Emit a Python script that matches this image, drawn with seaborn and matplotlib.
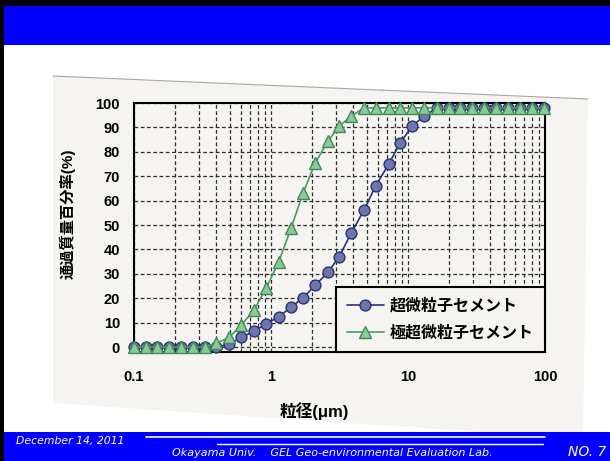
import matplotlib
matplotlib.use("Agg")
import matplotlib.pyplot as plt
from matplotlib.patches import Rectangle, Polygon
from matplotlib.lines import Line2D
from matplotlib.ticker import FixedLocator, LogLocator, NullFormatter
import pandas as pd
import seaborn as sns

# Particle size (μm) and cumulative passing mass percentage (%)
size_um = [0.100, 0.122, 0.148, 0.180, 0.220, 0.270, 0.330, 0.396, 0.497, 0.609,
           0.751, 0.925, 1.14, 1.40, 1.71, 2.10, 2.60, 3.14, 3.86, 4.76,
           5.80, 7.24, 8.74, 10.7, 13.0, 16.3, 19.8, 24.1, 29.3, 35.6,
           44.1, 53.7, 66.0, 80.4, 97.8]
ultrafine = [0, 0, 0, 0, 0, 0, 0, 0, 1.2, 4.0,
             6.5, 9.5, 12.5, 16.3, 20.2, 25.3, 30.6, 37.0, 46.8, 56.0,
             66.0, 75.0, 83.5, 90.5, 94.5, 98, 98, 98, 98, 98,
             98, 98, 98, 98, 98]
superfine = [0, 0, 0, 0, 0, 0, 0, 1.5, 4.0, 9.2,
             15.1, 24.3, 35.0, 48.6, 63.0, 75.4, 84.3, 90.5, 94.6, 98,
             98, 98, 98, 98, 98, 98, 98, 98, 98, 98,
             98, 98, 98, 98, 98]
series_names = ["超微粒子セメント", "極超微粒子セメント"]
x_ticks = [0.1, 1, 10, 100]
x_ticklabels = ["0.1", "1", "10", "100"]
y_ticks = [0, 10, 20, 30, 40, 50, 60, 70, 80, 90, 100]
x_title = "粒径(μm)"
y_title = "通過質量百分率(%)"
footer_date = "December 14, 2011"
footer_lab = "Okayama Univ.    GEL Geo-environmental Evaluation Lab."
footer_page = "NO. 7"

sns.set_style("white")
plt.rcParams["font.family"] = ["Liberation Sans", "Noto Sans CJK JP", "DejaVu Sans"]
plt.rcParams.update({"text.color": "black", "axes.labelcolor": "black",
                     "xtick.color": "black", "ytick.color": "black"})

W, H = 610, 461
fig = plt.figure(figsize=(W / 100, H / 100), dpi=100)
fig.patch.set_facecolor("white")


def fx(px):
    return px / W


def fy(py):
    return 1 - py / H


def rect(x0, y0, x1, y1, color, z=0):
    fig.add_artist(Rectangle((fx(x0), fy(y1)), (x1 - x0) / W, (y1 - y0) / H,
                             transform=fig.transFigure, facecolor=color,
                             edgecolor="none", zorder=z))


# slide frame: header band, footer band and dark left border
SLIDE_BLUE = "#0000fb"
rect(0, 0, W, 6, "black")
rect(0, 6, W, 45, SLIDE_BLUE)
rect(0, 432, W, H, SLIDE_BLUE)
rect(0, 0, 4, H, "black")

# scanned sheet behind the chart
PAPER = "#f5f4f0"
sheet = [(53, 76), (588, 99), (583, 432), (480, 432), (53, 403)]
fig.add_artist(Polygon([(fx(a), fy(b)) for a, b in sheet], closed=True,
                       transform=fig.transFigure, facecolor=PAPER,
                       edgecolor="none", zorder=0.5))
fig.add_artist(Line2D([fx(53), fx(588)], [fy(76), fy(99)],
                      transform=fig.transFigure, color="#a8a8a8", lw=0.8, zorder=0.6))

# footer lines and texts
fig.add_artist(Line2D([fx(146), fx(545)], [fy(437), fy(437)],
                      transform=fig.transFigure, color="white", lw=1.2, zorder=2))
fig.add_artist(Line2D([fx(217), fx(543)], [fy(444), fy(444)],
                      transform=fig.transFigure, color="white", lw=1.0, zorder=2))
fig.text(fx(16), fy(441), footer_date, color="white", fontsize=7.8, style="italic",
         family="DejaVu Sans", ha="left", va="center", zorder=3)
fig.text(fx(172), fy(453), footer_lab, color="white", fontsize=8, style="italic",
         family="DejaVu Sans", ha="left", va="center", zorder=3)
fig.text(fx(568), fy(452), footer_page, color="white", fontsize=10, style="italic",
         family="DejaVu Sans", ha="left", va="center", zorder=3)

# chart
ax = fig.add_axes([fx(134), fy(352), (545 - 134) / W, (352 - 103) / H])
ax.set_facecolor("none")
ax.set_zorder(1)

df_a = pd.DataFrame({"size": size_um, "passing": ultrafine})
df_b = pd.DataFrame({"size": size_um, "passing": superfine})

sns.lineplot(data=df_a, x="size", y="passing", ax=ax, color="#2b3270", lw=1.2,
             marker="o", markersize=7.8, markerfacecolor="#6c75ad",
             markeredgecolor="#2b3270", markeredgewidth=1.0,
             label=series_names[0], clip_on=False, zorder=3)
sns.lineplot(data=df_b, x="size", y="passing", ax=ax, color="#4b9a62", lw=1.2,
             marker="^", markersize=8.2, markerfacecolor="#8dc89b",
             markeredgecolor="#3f8a55", markeredgewidth=1.0,
             label=series_names[1], clip_on=False, zorder=4)

ax.set_xscale("log")
ax.set_xlim(0.1, 100)
ax.set_ylim(-2, 100)
ax.xaxis.set_major_locator(FixedLocator(x_ticks))
ax.set_xticklabels(x_ticklabels)
ax.xaxis.set_minor_locator(LogLocator(base=10, subs=[2, 3, 4, 5, 6, 7, 8, 9]))
ax.xaxis.set_minor_formatter(NullFormatter())
ax.set_yticks(y_ticks)

grid_kw = dict(color="#2e2e2e", linestyle=(0, (3, 2)), linewidth=0.9)
ax.grid(True, which="both", axis="x", **grid_kw)
ax.grid(True, which="major", axis="y", **grid_kw)
ax.set_axisbelow(True)

for s in ax.spines.values():
    s.set_visible(True)
    s.set_color("black")
    s.set_linewidth(1.5)

ax.tick_params(axis="x", which="both", length=0, pad=13, labelsize=10.5)
ax.tick_params(axis="y", which="major", direction="in", length=4, width=1,
               pad=10, labelsize=10.5)
for t in ax.get_xticklabels() + ax.get_yticklabels():
    t.set_fontweight("bold")

ax.set_xlabel(x_title, fontsize=12, fontweight="bold")
ax.xaxis.set_label_coords(0.44, -0.20)
ax.xaxis.label.set_va("top")
ax.set_ylabel(y_title, fontsize=11, fontweight="bold")
ax.yaxis.set_label_coords(-0.141, 0.554)

leg = ax.legend(loc="lower right", bbox_to_anchor=(1.0, 0.0), borderaxespad=0,
                prop={"weight": "bold", "size": 11.5}, handlelength=2.35,
                handletextpad=0.35, labelspacing=0.75, borderpad=0.7,
                fancybox=False, framealpha=1, facecolor=PAPER, edgecolor="black")
leg.get_frame().set_linewidth(1.5)
leg.set_zorder(5)

fig.savefig("out.png", dpi=100)
